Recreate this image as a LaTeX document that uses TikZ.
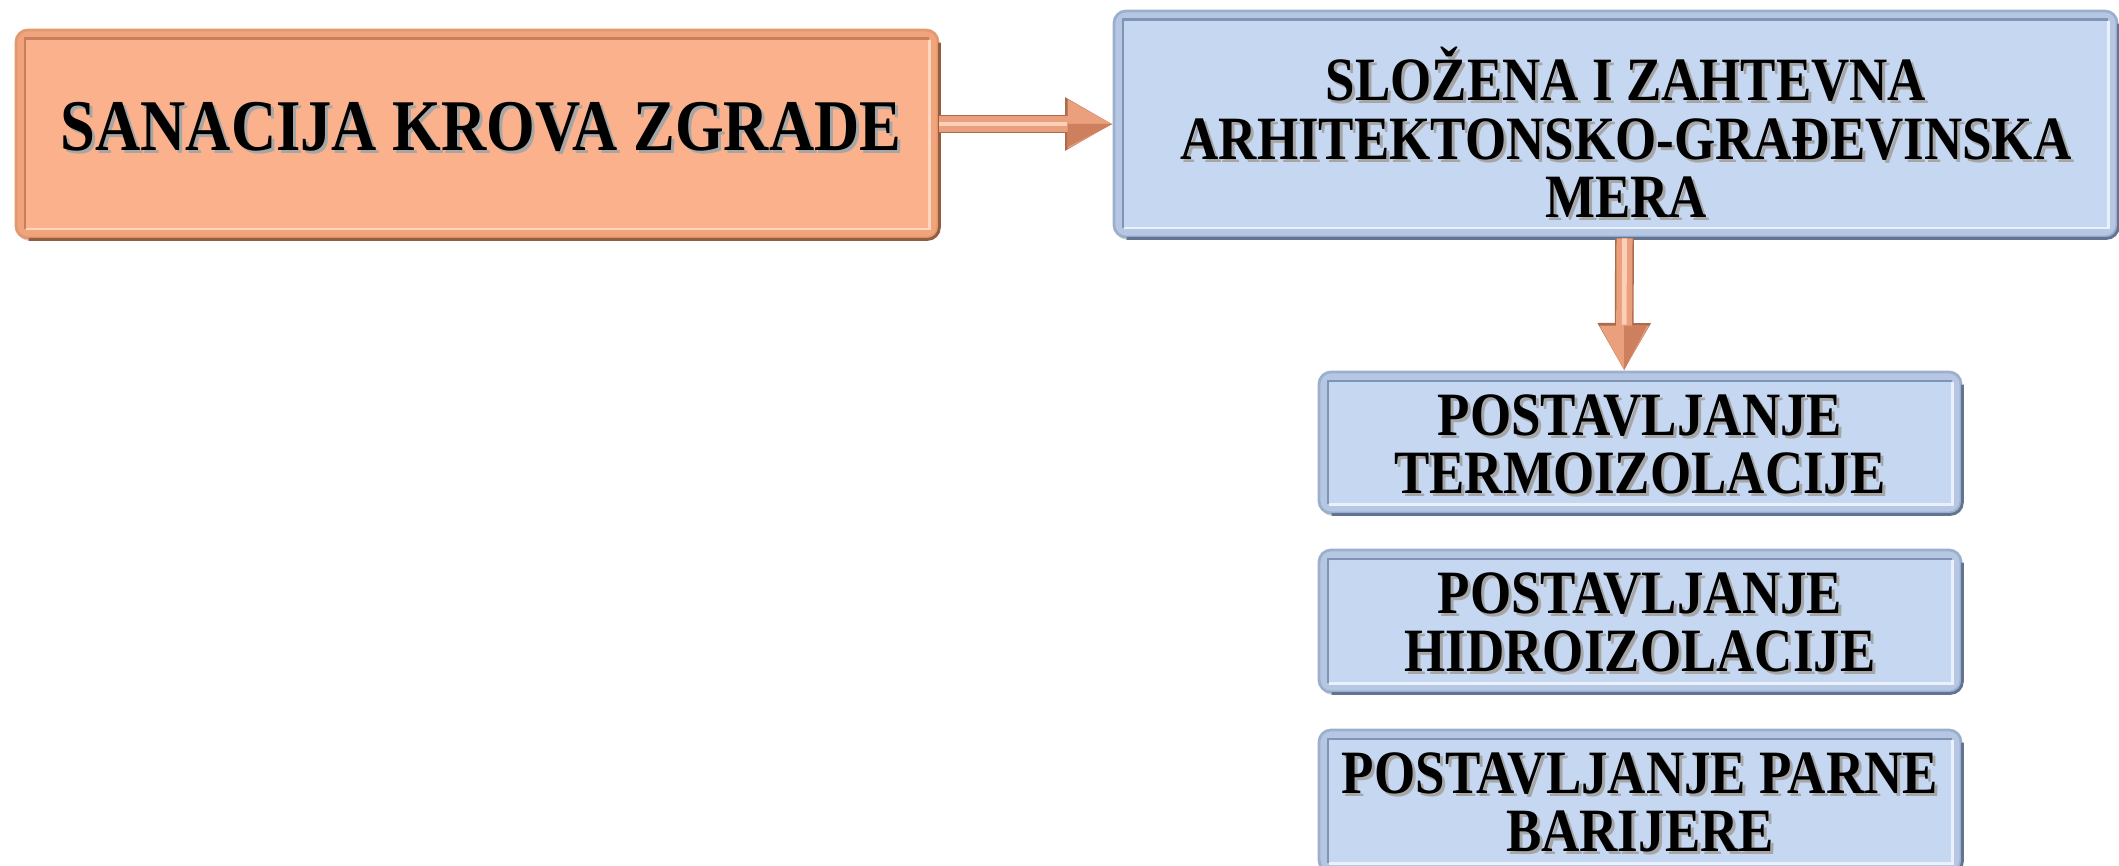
\documentclass[tikz,border=0pt]{standalone}
\usepackage{fontspec}
\setmainfont{Liberation Serif}[FakeStretch=0.86]
\usetikzlibrary{arrows.meta,shadows,calc}

% orange panel tones
\definecolor{ofill}{RGB}{251,177,140}
\definecolor{oband}{RGB}{241,164,124}
\definecolor{orim}{RGB}{226,152,112}
\definecolor{oouter}{RGB}{150,92,62}
\definecolor{odark}{RGB}{200,128,92}
\definecolor{olight}{RGB}{255,214,192}
% blue panel tones
\definecolor{bfill}{RGB}{197,215,241}
\definecolor{bband}{RGB}{181,199,227}
\definecolor{brim}{RGB}{156,176,206}
\definecolor{bouter}{RGB}{98,116,146}
\definecolor{bdark}{RGB}{128,148,182}
\definecolor{blight}{RGB}{234,241,252}
% arrow tones
\definecolor{arr}{RGB}{234,160,124}
\definecolor{arrdark}{RGB}{172,106,78}
\definecolor{arrshade}{RGB}{206,128,94}
\definecolor{arrlight}{RGB}{251,208,184}

% text with a soft grey drop shadow
\newcommand\shtxt[1]{\rlap{\kern1.5pt\raisebox{-1.5pt}{\textcolor{black!35}{#1}}}#1}

% bevel of a panel: #1 node, #2 face, #3 outer shade, #4 inner dark, #5 inner light
\newcommand\bevel[5]{%
  \fill[#2, rounded corners=3pt]
    ([shift={(5pt,-5pt)}]#1.north west) rectangle ([shift={(-5pt,5pt)}]#1.south east);
  \draw[#3, line width=1.4pt, rounded corners=6pt]
    ([yshift=-7pt]#1.north east) -- (#1.south east) -- ([xshift=7pt]#1.south west);
  \draw[#4, line width=1.1pt]
    ([shift={(5pt,5pt)}]#1.south west) -- ([shift={(5pt,-5pt)}]#1.north west)
    -- ([shift={(-5pt,-5pt)}]#1.north east);
  \draw[#5, line width=1.1pt]
    ([shift={(5.6pt,5pt)}]#1.south west) -- ([shift={(-5pt,5pt)}]#1.south east)
    -- ([shift={(-5pt,-5.6pt)}]#1.north east);
}

\tikzset{
  panel/.style={rounded corners=6pt, line width=1.4pt, inner sep=0pt,
    drop shadow={shadow xshift=0.6pt, shadow yshift=-1.4pt, opacity=0.25, fill=black!70}},
  obox/.style={panel, fill=oband, draw=orim},
  bbox/.style={panel, fill=bband, draw=brim},
  lbl/.style={font=\bfseries\fontsize{30.8}{29.3}\selectfont, align=center, inner sep=0pt},
  biglbl/.style={font=\bfseries\fontsize{36.4}{34}\selectfont, align=center, inner sep=0pt},
  conn/.style={line width=8pt, draw=arr, -{Triangle[length=22.5pt,width=23pt]},
    preaction={draw=arrdark, line width=9.4pt, -{Triangle[length=23.8pt,width=25pt]}},
    postaction={draw=arrlight, line width=2.4pt, arrows=-, shorten >=23pt}}
}

\begin{document}
\begin{tikzpicture}[x=0.5pt,y=-0.5pt]
  \useasboundingbox (0,0) rectangle (2119,866);

  % panels
  \node[obox, minimum width=461pt, minimum height=104pt] (a) at (477,134) {};
  \node[bbox, minimum width=501.5pt, minimum height=113pt] (b) at (1615.5,124) {};
  \node[bbox, minimum width=321pt, minimum height=70.5pt] (c) at (1640,442.5) {};
  \node[bbox, minimum width=321pt, minimum height=71pt] (d) at (1640,621) {};
  \node[bbox, minimum width=321pt, minimum height=71pt] (e) at (1640,801) {};

  \bevel{a}{ofill}{oouter}{odark}{olight}
  \bevel{b}{bfill}{bouter}{bdark}{blight}
  \bevel{c}{bfill}{bouter}{bdark}{blight}
  \bevel{d}{bfill}{bouter}{bdark}{blight}
  \bevel{e}{bfill}{bouter}{bdark}{blight}

  % labels
  \node[biglbl] (at) at (481,128) {\shtxt{SANACIJA KROVA ZGRADE}};
  \node[lbl] (bt) at (1626,134) {\shtxt{SLOŽENA I ZAHTEVNA}\\\shtxt{ARHITEKTONSKO-GRAĐEVINSKA}\\\shtxt{MERA}};
  \node[lbl] (ct) at (1640,446) {\shtxt{POSTAVLJANJE}\\\shtxt{TERMOIZOLACIJE}};
  \node[lbl] (dt) at (1640,624) {\shtxt{POSTAVLJANJE}\\\shtxt{HIDROIZOLACIJE}};
  \node[lbl] (et) at (1640,804) {\shtxt{POSTAVLJANJE PARNE}\\\shtxt{BARIJERE}};

  % connectors
  \draw[conn] (a.east |- b.west) -- (b.west);
  \fill[arrshade] (b.west) -- ++(-22.5pt,0) -- ++(0,-11.5pt) -- cycle;
  \draw[conn] ([xshift=4.5pt]b.south) -- ([xshift=-8pt]c.north);
  \fill[arrshade] ([xshift=-8pt]c.north) -- ++(0,22.5pt) -- ++(11.5pt,0) -- cycle;
\end{tikzpicture}
\end{document}
